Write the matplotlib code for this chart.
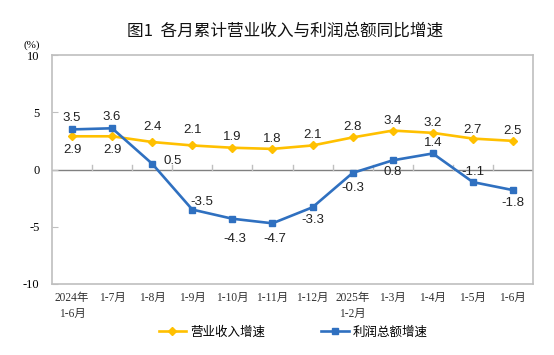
import matplotlib
matplotlib.use("Agg")
import matplotlib.pyplot as plt

plt.rcParams['font.family'] = ['Liberation Sans', 'Noto Sans CJK SC', 'DejaVu Sans']

categories = ["2024年\n1-6月", "1-7月", "1-8月", "1-9月", "1-10月", "1-11月", "1-12月",
              "2025年\n1-2月", "1-3月", "1-4月", "1-5月", "1-6月"]
revenue = [2.9, 2.9, 2.4, 2.1, 1.9, 1.8, 2.1, 2.8, 3.4, 3.2, 2.7, 2.5]
profit = [3.5, 3.6, 0.5, -3.5, -4.3, -4.7, -3.3, -0.3, 0.8, 1.4, -1.1, -1.8]
yticks = [-10, -5, 0, 5, 10]
series_names = ["营业收入增速", "利润总额增速"]
title = "图1  各月累计营业收入与利润总额同比增速"

# label offsets in pixels (dx, dy); positive dy = up
rev_off = [(0, -14), (0, -14), (0, 15), (0, 15), (0, 11), (0, 10), (0, 10),
           (0, 10), (0, 10), (0, 10), (0, 9), (0, 10)]
pro_off = [(0, 11), (0, 11), (20, 3), (10, 8), (2, -20), (2, -16), (0, -13),
           (0, -15), (0, -12), (0, 10), (0, 10), (0, -13)]

gold = "#FFC000"
blue = "#2F70C0"
serif = ['Liberation Serif', 'Noto Sans CJK SC']

fig = plt.figure(figsize=(5.54, 3.55), dpi=100)
ax = fig.add_axes([52/554, 1-284/355, (533-52)/554, (284-55)/355])

x = list(range(len(categories)))
ax.plot(x, revenue, color=gold, lw=1.9, marker='D', ms=4.2, label=series_names[0], zorder=3)
ax.plot(x, profit, color=blue, lw=1.9, marker='s', ms=4.0, label=series_names[1], zorder=4)

ax.set_xlim(-0.5, len(categories) - 0.5)
ax.set_ylim(-10, 10)
ax.set_yticks(yticks)
ax.set_yticklabels([str(v) for v in yticks], family=serif, fontsize=9)
ax.set_xticks(x)
ax.set_xticklabels(categories, family=serif, fontsize=8.3,
                   linespacing=1.4, color='#333333')
ax.tick_params(axis='x', length=0, pad=6)
ax.tick_params(axis='y', direction='in', length=4, color='#BFBFBF', pad=9)

for s in ax.spines.values():
    s.set_color('#BFBFBF')
    s.set_linewidth(1.2)

# zero line with boundary ticks
ax.axhline(0, color='#808080', lw=1.0, zorder=1)
for b in [i + 0.5 for i in x[:-1]]:
    ax.plot([b, b], [0, 0.35], color='#BFBFBF', lw=1.0, zorder=1)

for i, v in enumerate(revenue):
    dx, dy = rev_off[i]
    ax.annotate(f"{v:.1f}", (i, v), xytext=(dx, dy), textcoords='offset pixels',
                ha='center', va='center', fontsize=9.5, color='#222222',
                family=['Liberation Sans', 'DejaVu Sans'])
for i, v in enumerate(profit):
    dx, dy = pro_off[i]
    ax.annotate(f"{v:.1f}", (i, v), xytext=(dx, dy), textcoords='offset pixels',
                ha='center', va='center', fontsize=9.5, color='#222222',
                family=['Liberation Sans', 'DejaVu Sans'])

fig.text(32/554, 1-45/355, "(%)", ha='center', va='center', fontsize=8,
         family=serif)

fig.text(285/554, 1-31/355, title, ha='center', va='center', fontsize=12,
         fontweight='medium', family=['Noto Sans CJK SC', 'DejaVu Sans'], color='#111111')

fig.legend(loc='center', bbox_to_anchor=(293/554, 1-332/355), ncol=2, frameon=False,
           prop={'family': ['Noto Sans CJK SC', 'DejaVu Sans'], 'size': 9},
           handlelength=2.2, handletextpad=0.3, columnspacing=4.5, markerscale=1.0)

fig.savefig("out.png", dpi=100)
